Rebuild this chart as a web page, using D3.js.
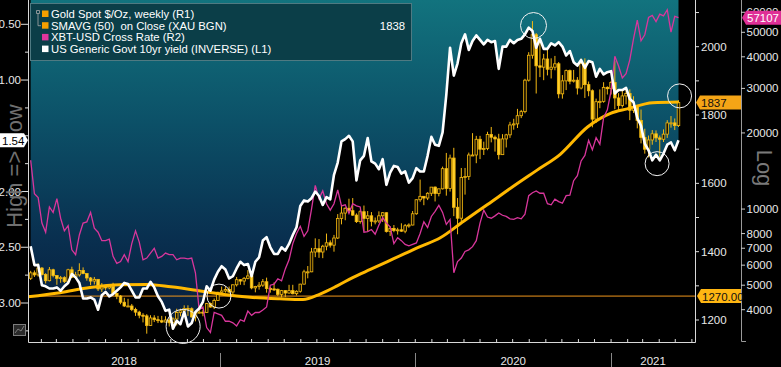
<!DOCTYPE html>
<html><head><meta charset="utf-8">
<script src="https://cdn.jsdelivr.net/npm/d3@7"></script>
<style>
html,body{margin:0;padding:0;background:#000;overflow:hidden;}
svg{display:block;font-family:"Liberation Sans",Arial,sans-serif;}
text{white-space:pre;}
</style></head><body>
<svg id="c" width="781" height="367"></svg>
<script>
// ---------------- DATA ----------------
const weekStart = "2018-01-12"; // first weekly observation (Fridays)
const goldFirstOpen = 1322;
const goldClose = [
1338,1332,1352,1333,1315,1347,1330,1322,1324,1313,1347,1325,1332,1345,1336,1323,1314,1319,1291,1302,1294,1298,1278,1270,1252,1241,1241,1231,1223,1214,1212,1184,1206,1201,1198,1194,1200,1192,1203,1222,1227,1234,1233,1209,1222,1223,1222,1248,1238,1257,1281,
1285,1289,1282,1303,1318,1314,1322,1329,1294,1298,1302,1312,1292,1291,1290,1275,1286,1279,1286,1277,1284,1305,1341,1341,1399,1409,1399,1416,1426,1419,1440,1497,1513,1527,1520,1507,1488,1517,1497,1505,1489,1490,1505,1514,1459,1468,1462,1464,1460,1476,1478,1511,
1552,1562,1557,1571,1589,1570,1584,1643,1585,1674,1530,1498,1617,1620,1683,1683,1729,1700,1702,1743,1735,1730,1684,1730,1742,1771,1774,1798,1810,1902,1975,2035,1944,1940,1964,1934,1940,1950,1862,1900,1930,1899,1902,1879,1951,1889,1871,1788,1839,1840,1881,1877,
1895,1850,1828,1856,1863,1814,1824,1784,1734,1700,1727,1745,1733,1729,1744,1777,1777,1769,1837];
const goldHigh = [
1344,1345,1366,1355,1337,1355,1350,1331,1329,1328,1350,1356,1341,1366,1354,1336,1326,1326,1319,1308,1303,1304,1309,1279,1273,1265,1262,1247,1236,1227,1220,1217,1214,1214,1212,1212,1211,1205,1208,1233,1233,1243,1243,1237,1226,1231,1230,1250,1251,1263,1283,
1298,1298,1298,1304,1326,1320,1326,1346,1330,1300,1311,1320,1324,1297,1310,1292,1288,1287,1303,1303,1287,1306,1347,1358,1411,1439,1437,1420,1453,1433,1449,1510,1535,1530,1555,1557,1512,1522,1535,1519,1516,1500,1518,1516,1515,1474,1478,1470,1483,1481,1483,1519,
1553,1611,1563,1574,1589,1591,1584,1649,1689,1684,1704,1557,1645,1645,1690,1747,1739,1739,1722,1751,1765,1740,1745,1744,1745,1780,1789,1818,1815,1906,1984,2075,2040,2015,1979,1992,1966,1973,1955,1917,1933,1933,1932,1911,1965,1966,1898,1875,1848,1875,1896,1884,
1900,1959,1864,1875,1875,1875,1855,1828,1816,1760,1740,1756,1755,1740,1758,1785,1797,1790,1843];
const goldLow = [
1317,1326,1327,1330,1307,1313,1325,1303,1309,1308,1309,1323,1321,1327,1334,1315,1302,1304,1285,1282,1288,1290,1276,1261,1246,1238,1238,1226,1212,1205,1193,1160,1183,1194,1191,1191,1193,1181,1182,1184,1211,1221,1212,1207,1196,1219,1211,1221,1236,1232,1256,
1276,1280,1278,1276,1298,1303,1302,1319,1290,1281,1289,1297,1280,1280,1285,1270,1266,1267,1277,1275,1272,1280,1304,1322,1340,1384,1382,1381,1404,1412,1400,1437,1480,1492,1516,1505,1484,1482,1460,1459,1474,1480,1484,1487,1456,1446,1457,1450,1458,1454,1470,1477,
1508,1546,1536,1551,1563,1547,1562,1582,1564,1576,1504,1451,1484,1567,1610,1680,1659,1671,1683,1697,1720,1693,1670,1684,1705,1733,1757,1762,1791,1805,1898,1965,1863,1911,1902,1916,1907,1931,1849,1848,1873,1890,1895,1860,1875,1850,1855,1764,1777,1820,1836,1860,
1860,1817,1811,1822,1831,1785,1806,1761,1717,1687,1676,1713,1721,1677,1721,1733,1763,1756,1765];
const yield10y = [
2.49,2.66,2.66,2.84,2.85,2.87,2.87,2.86,2.89,2.85,2.82,2.74,2.77,2.82,2.96,2.96,2.95,2.97,3.06,2.93,2.90,2.94,2.92,2.89,2.86,2.82,2.83,2.89,2.95,2.95,2.87,2.87,2.81,2.86,2.94,2.99,3.07,3.06,3.23,3.16,3.19,3.08,3.21,3.18,3.08,3.05,2.99,2.85,2.89,2.79,2.72,
2.67,2.70,2.78,2.76,2.69,2.63,2.66,2.65,2.76,2.63,2.59,2.44,2.41,2.50,2.56,2.56,2.50,2.53,2.47,2.39,2.32,2.13,2.08,2.09,2.06,2.00,2.04,2.12,2.05,2.07,1.85,1.74,1.55,1.53,1.50,1.55,1.90,1.72,1.68,1.52,1.73,1.75,1.80,1.71,1.94,1.83,1.77,1.78,1.84,1.82,1.92,1.88,
1.79,1.82,1.82,1.68,1.51,1.58,1.59,1.47,1.13,0.71,0.96,0.85,0.67,0.59,0.73,0.65,0.60,0.64,0.68,0.64,0.66,0.65,0.90,0.70,0.70,0.64,0.67,0.64,0.63,0.59,0.53,0.56,0.71,0.63,0.72,0.72,0.67,0.69,0.66,0.70,0.78,0.74,0.84,0.87,0.82,0.89,0.83,0.84,0.97,0.90,0.95,0.93,
0.92,1.12,1.09,1.09,1.07,1.17,1.20,1.34,1.41,1.57,1.63,1.72,1.67,1.72,1.66,1.58,1.56,1.63,1.54];
const xbt = [
15600,11500,11100,8800,8100,10200,9700,11000,9200,8200,8600,6900,6600,7900,8800,8900,9700,8400,8100,7500,7500,7600,6500,6100,6200,6600,6200,7300,8200,7400,6300,6400,6700,7000,6400,6500,6700,6600,6600,6300,6400,6400,6350,6400,5600,4000,4100,3400,3250,3900,3850,
3800,3600,3600,3550,3450,3650,3600,3950,3800,3900,3900,3990,4100,5000,5050,5300,5200,5800,6300,7300,8000,8550,7800,8200,10000,12400,11000,11800,10500,9900,10500,11900,10300,10400,9600,10500,10300,10200,8100,8150,8300,7950,8650,9250,8800,8500,7300,7700,7500,7250,7150,7250,
7350,8000,8900,8450,9350,9800,10350,9700,8700,9100,5600,6200,6400,6800,6900,7100,7500,8800,9900,9300,9200,9400,9650,9450,9350,9150,9100,9250,9150,9550,11300,11600,11800,11550,11550,10500,10400,10950,10700,10550,11300,11350,12950,13550,15500,16300,18700,17150,19150,18050,23000,24700,
29300,40200,36800,33000,34300,38900,47200,55900,46300,48900,57200,58300,55100,59000,58100,61400,50100,57800,57107];
const smaDates = ["2018-01-07","2018-03-08","2018-05-03","2018-06-28","2018-08-18","2018-10-01","2018-11-13","2019-01-01","2019-03-03","2019-04-23","2019-06-05","2019-07-07","2019-08-08","2019-09-07","2019-10-09","2019-11-10","2019-12-12","2020-01-10","2020-02-16","2020-04-01","2020-05-15","2020-07-01","2020-08-15","2020-09-28","2020-11-18","2020-12-31","2021-01-31","2021-03-20","2021-05-07"];
const smaValues = [1268,1280,1295,1303,1304,1297,1288,1276,1266,1262,1260,1276,1300,1325,1348,1371,1394,1415,1440,1490,1538,1590,1638,1685,1765,1805,1818,1836,1838];
const refLevel = 1270;
const lastGold = 1837, lastSma = 1838, lastXbt = 57107, lastYield = 1.54;
const yieldTicks = [0.5,1.0,1.5,2.0,2.5,3.0];
const yieldLabels = [0.5,1.0,2.0,2.5,3.0]; // 1.50 sits under the 1.54 flag
const yieldMinor = [0.75,1.25,1.75,2.25,2.75,3.25];
const goldTicks = [1200,1400,1600,1800,2000];
const goldMinor = [1300,1500,1700,1900,2100];
const xbtTicks = [4000,5000,6000,7000,8000,10000,20000,30000,40000,50000,60000];
const years = ["2018","2019","2020","2021"];
const legendLabels = ["Gold Spot $/Oz, weekly (R1)","SMAVG (50)  on Close (XAU BGN)","XBT-USD Cross Rate (R2)","US Generic Govt 10yr yield (INVERSE) (L1)"];
const annotDates = ["2018-10-24","2018-12-30","2020-08-09","2021-03-28","2021-05-09"];
const annotValues = [3.21,1270,2062,1.75,1856];
const annotAxis = ["L","G","G","L","G"];

// ---------------- SCALES ----------------
const svg = d3.select("#c");
const W = 781, H = 367, L = 28, R = 695, B = 342;
const parse = s => new Date(s + "T00:00:00Z");
const start = parse(weekStart);
const dates = goldClose.map((_, i) => d3.utcDay.offset(start, 7 * i));
const x = d3.scaleUtc().domain([parse("2018-01-07"), parse("2021-06-05")]).range([L, 694]);
const yL = d3.scaleLinear().domain([0.5, 3.0]).range([24.3, 303]);
const yG = d3.scaleLinear().domain([1200, 2000]).range([320, 46.7]);
const yX = d3.scaleLog().domain([4000, 50000]).range([309.7, 32.3]);

const defs = svg.append("defs");
const gr = defs.append("linearGradient").attr("id","bg").attr("gradientUnits","userSpaceOnUse")
  .attr("x1",0).attr("y1",0).attr("x2",0).attr("y2",B);
[[0,"#12737e"],[0.35,"#0c5168"],[0.7,"#092f4f"],[1,"#061a38"]].forEach(s=>gr.append("stop").attr("offset",s[0]).attr("stop-color",s[1]));
defs.append("clipPath").attr("id","clip").append("rect").attr("x",L).attr("y",0).attr("width",R-L).attr("height",B);

svg.append("rect").attr("width",W).attr("height",H).attr("fill","#000");
const plot = svg.append("g").attr("clip-path","url(#clip)");

const yd = yield10y.map((v,i)=>({d:dates[i],v}));
plot.append("path").datum(yd).attr("fill","url(#bg)")
  .attr("d", d3.area().x(d=>x(d.d)).y0(0).y1(d=>yL(d.v)));

plot.append("line").attr("x1",L).attr("x2",R).attr("y1",yG(refLevel)).attr("y2",yG(refLevel))
  .attr("stroke","#f0961c").attr("stroke-width",1);

const gold = goldClose.map((c,i)=>({d:dates[i],o:i?goldClose[i-1]:goldFirstOpen,c,h:goldHigh[i],l:goldLow[i]}));
const cg = plot.append("g");
cg.selectAll("line").data(gold).join("line")
  .attr("x1",d=>x(d.d)).attr("x2",d=>x(d.d)).attr("y1",d=>yG(d.h)).attr("y2",d=>yG(d.l))
  .attr("stroke","#f3b814").attr("stroke-width",1);
cg.selectAll("rect").data(gold).join("rect")
  .attr("x",d=>x(d.d)-1.3).attr("width",2.6)
  .attr("y",d=>yG(Math.max(d.o,d.c))).attr("height",d=>Math.max(1,Math.abs(yG(d.o)-yG(d.c))))
  .attr("fill",d=>d.c>=d.o?"#1a1200":"#ffd02a").attr("stroke","#f5b90f").attr("stroke-width",0.8);

const sd = smaDates.map((s,i)=>({d:parse(s),v:smaValues[i]}));
plot.append("path").datum(sd).attr("fill","none").attr("stroke","#ffb800").attr("stroke-width",3)
  .attr("d", d3.line().x(d=>x(d.d)).y(d=>yG(d.v)).curve(d3.curveMonotoneX));

const xd = xbt.map((v,i)=>({d:dates[i],v}));
plot.append("path").datum(xd).attr("fill","none").attr("stroke","#d9369c").attr("stroke-width",1.3)
  .attr("d", d3.line().x(d=>x(d.d)).y(d=>yX(d.v)));

plot.append("path").datum(yd).attr("fill","none").attr("stroke","#fff").attr("stroke-width",2.6)
  .attr("stroke-linejoin","round").attr("d", d3.line().x(d=>x(d.d)).y(d=>yL(d.v)));

const annotR = [17,12,13,12,12];
svg.append("g").selectAll("circle").data(annotDates).join("circle")
  .attr("cx",(s)=>x(parse(s)))
  .attr("cy",(s,i)=>annotAxis[i]==="L"?yL(annotValues[i]):yG(annotValues[i]))
  .attr("r",(s,i)=>annotR[i]).attr("fill","none").attr("stroke","#f2f2f2").attr("stroke-width",1);

const fr = svg.append("g").attr("stroke","#d8d8d8").attr("stroke-width",1).attr("fill","none");
fr.append("path").attr("d",`M${L+0.5},0V${B+0.5}H${R+0.5}V0`);
fr.selectAll("line.mt").data(d3.utcMonth.range(parse("2018-02-01"), parse("2021-06-05"))).join("line")
  .attr("x1",d=>x(d)).attr("x2",d=>x(d)).attr("y1",B).attr("y2",B-3);

const la = svg.append("g");
la.selectAll("line.t").data(yieldTicks).join("line").attr("x1",21).attr("x2",L).attr("y1",d=>yL(d)).attr("y2",d=>yL(d)).attr("stroke","#ddd");
la.selectAll("line.m").data(yieldMinor).join("line").attr("class","m").attr("x1",25).attr("x2",L).attr("y1",d=>yL(d)).attr("y2",d=>yL(d)).attr("stroke","#ddd");
la.selectAll("text").data(yieldLabels).join("text").attr("x",21).attr("y",d=>yL(d)+4).attr("text-anchor","end")
  .attr("fill","#e8e8e8").attr("font-size",11.5).text(d=>d.toFixed(2));

svg.append("text").attr("transform","translate(22,166) rotate(-90)").attr("text-anchor","middle")
  .attr("fill","#707070").attr("font-size",22).text("High => Low");

const ga = svg.append("g");
ga.selectAll("line.t").data(goldTicks.concat(goldMinor)).join("line").attr("x1",R).attr("x2",R+4).attr("y1",d=>yG(d)).attr("y2",d=>yG(d)).attr("stroke","#ddd");
ga.selectAll("text").data(goldTicks).join("text").attr("x",701).attr("y",d=>yG(d)+4)
  .attr("fill","#e8e8e8").attr("font-size",11.5).text(d=>d);

const xa = svg.append("g");
xa.append("path").attr("d","M741.5,0V341.5H746").attr("stroke","#9a9a9a").attr("fill","none");
xa.selectAll("line.t").data(xbtTicks).join("line").attr("x1",741).attr("x2",745).attr("y1",d=>yX(d)).attr("y2",d=>yX(d)).attr("stroke","#ccc");
xa.selectAll("text").data(xbtTicks).join("text").attr("x",746.5).attr("y",d=>yX(d)+4)
  .attr("fill","#e8e8e8").attr("font-size",11.5).text(d=>d);
svg.append("text").attr("transform","translate(757,168) rotate(90)").attr("text-anchor","middle")
  .attr("fill","#7a7a7a").attr("font-size",22).text("Log");

const yb = years.map(y=>parse(y+"-01-01"));
svg.selectAll("line.ys").data(yb.slice(1)).join("line").attr("x1",d=>Math.round(x(d))+0.5).attr("x2",d=>Math.round(x(d))+0.5)
  .attr("y1",353).attr("y2",H).attr("stroke","#888");
svg.selectAll("text.yl").data(years).join("text")
  .attr("x",(y,i)=>{const a=Math.max(x(yb[i]),L);const b=i<3?x(yb[i+1]):R;return (a+b)/2;})
  .attr("y",365).attr("text-anchor","middle").attr("fill","#e8e8e8").attr("font-size",11.5).text(d=>d);

function flag(side, xTip, y, w, fill, txt, tc){
  const h=14, g=svg.append("g");
  let d;
  if(side==="L") d=`M${xTip},${y}L${xTip+4},${y-h/2}H${xTip+w}V${y+h/2}H${xTip+4}Z`;
  else d=`M${xTip},${y}L${xTip-4},${y-h/2}H${xTip-w}V${y+h/2}H${xTip-4}Z`;
  g.append("path").attr("d",d).attr("fill",fill);
  g.append("text").attr("x",side==="L"?xTip+5:xTip-w+2).attr("y",y+4.5).attr("fill",tc).attr("font-size",11.5).text(txt);
}
flag("L",696,yG(lastGold),45,"#f5a516",String(lastGold),"#111");
flag("L",697,yG(refLevel),44,"#ffb612",refLevel.toFixed(2),"#111");
flag("L",742,yX(lastXbt),39,"#df2f96",String(lastXbt),"#fff");
flag("R",28,yL(lastYield),28,"#ffffff",lastYield.toFixed(2),"#000");

const ic = svg.append("g").attr("fill","none").attr("stroke","#7c7c7c");
ic.append("rect").attr("x",13.5).attr("y",324.5).attr("width",12).attr("height",11).attr("fill","#2a2a2a");
ic.append("path").attr("d","M15,333L18,329L21,331L24,326");

const lg = svg.append("g");
lg.append("rect").attr("x",30.5).attr("y",3.5).attr("width",381).attr("height",57).attr("fill","#0b3e48").attr("stroke","#4f7a82");
const lcol = ["#f5a000","#f5a000","#e0359d","#ffffff"];
legendLabels.forEach((t,i)=>{
  const cy = 14 + i*11.7;
  lg.append("rect").attr("x",42).attr("y",cy-3.5).attr("width",6.5).attr("height",6.5).attr("fill",lcol[i]);
  lg.append("text").attr("x",51).attr("y",cy+4).attr("fill","#fff").attr("font-size",11.3).text(t);
});
lg.append("path").attr("d","M36.5,10.5h3v3h-3zM38,13.5V25.7H41").attr("stroke","#aaa").attr("fill","none").attr("stroke-width",0.8);
lg.append("text").attr("x",405).attr("y",29.7).attr("text-anchor","end").attr("fill","#fff").attr("font-size",11.3).text(String(lastSma));
</script>
</body></html>
